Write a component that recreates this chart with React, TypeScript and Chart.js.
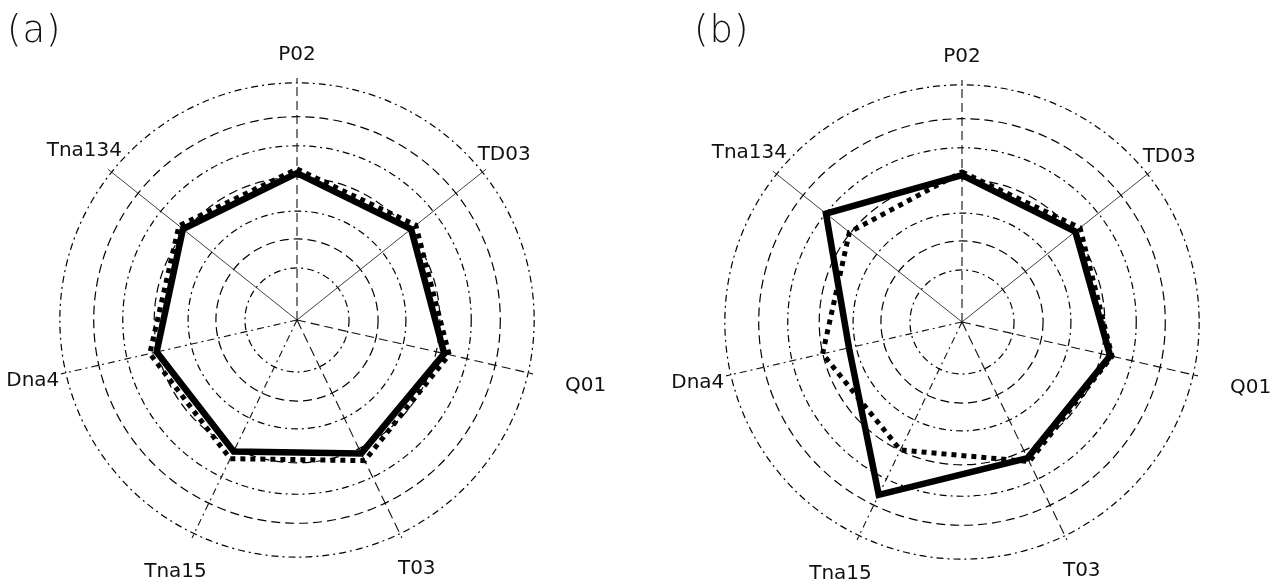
import React, { useEffect, useRef } from "react";
import { Chart, registerables } from "chart.js";

Chart.register(...registerables);

// ---- data ----
const CATEGORIES = ["P02", "TD03", "Q01", "T03", "Tna15", "Dna4", "Tna134"];
const RING_VALUES = [21.5, 33.5, 45, 59, 72, 84, 98];
const SCALE_MIN = 0;
const SCALE_MAX = 100;

const A_SOLID = [60.7, 60.3, 62.4, 61.2, 60.3, 59.5, 60.3];
const A_DASHED = [62.4, 62.8, 64.5, 64.5, 63.6, 62.4, 62.4];
const B_SOLID = [60.7, 59.9, 62.8, 62.4, 79.3, 47.9, 71.9];
const B_DASHED = [62.0, 62.4, 63.6, 64.0, 58.7, 59.1, 59.5];

// ---- styling / layout ----
const LABEL_DIST = [265, 265, 296, 276, 280, 271, 272];
const DASHED = [9, 5];
const DASH_DOT = [7, 4, 2, 4];
const ANGLE_DASH = [DASHED, [], DASHED, [10, 5], DASH_DOT, DASH_DOT, []];
const ANGLE_WIDTH = [1.1, 0.8, 1.1, 1.1, 1.1, 1.1, 0.8];

const axisLabelPlugin = {
  id: "axisLabels",
  afterDraw(chart: any) {
    const s = chart.scales.r;
    const ctx = chart.ctx;
    ctx.save();
    ctx.font = "20px 'DejaVu Sans'";
    ctx.fillStyle = "#111";
    ctx.textAlign = "center";
    ctx.textBaseline = "middle";
    (chart.data.labels as string[]).forEach((lab, i) => {
      const p = s.getPointPosition(i, LABEL_DIST[i]);
      ctx.fillText(lab, p.x, p.y);
    });
    ctx.restore();
  },
};

function makeConfig(solid: number[], dashed: number[], padding: any) {
  return {
    type: "radar" as const,
    data: {
      labels: CATEGORIES,
      datasets: [
        {
          label: "solid",
          data: solid,
          borderColor: "#000",
          borderWidth: 6.5,
          borderJoinStyle: "miter",
          fill: false,
          pointRadius: 0,
          tension: 0,
        },
        {
          label: "dashed",
          data: dashed,
          borderColor: "#000",
          borderWidth: 5,
          borderDash: [5, 5],
          borderCapStyle: "butt",
          fill: false,
          pointRadius: 0,
          tension: 0,
        },
      ],
    },
    options: {
      animation: false,
      responsive: false,
      maintainAspectRatio: false,
      layout: { padding },
      plugins: {
        legend: { display: false },
        tooltip: { enabled: false },
      },
      scales: {
        r: {
          min: SCALE_MIN,
          max: SCALE_MAX,
          afterBuildTicks: (scale: any) => {
            scale.ticks = [SCALE_MIN, ...RING_VALUES].map((v) => ({ value: v }));
          },
          ticks: { display: false },
          pointLabels: { display: false },
          grid: {
            circular: true,
            color: "#000",
            lineWidth: 1.2,
          },
          border: {
            dash: (ctx: any) => (ctx.index % 2 === 1 ? DASH_DOT : DASHED),
          },
          angleLines: {
            display: true,
            color: "#111",
            lineWidth: (ctx: any) => ANGLE_WIDTH[ctx.index],
            borderDash: (ctx: any) => ANGLE_DASH[ctx.index],
          },
        },
      },
    },
    plugins: [axisLabelPlugin],
  };
}

function RadarPanel(props: { solid: number[]; dashed: number[]; padding: any; left: number; width: number }) {
  const ref = useRef<HTMLCanvasElement | null>(null);
  useEffect(() => {
    if (!ref.current) return;
    const chart = new Chart(ref.current, makeConfig(props.solid, props.dashed, props.padding) as any);
    return () => chart.destroy();
  }, []);
  return (
    <canvas
      ref={ref}
      width={props.width}
      height={581}
      style={{ position: "absolute", left: props.left, top: 0, width: props.width, height: 581, display: "block" }}
    />
  );
}

const panelLetter: React.CSSProperties = {
  position: "absolute",
  top: 11,
  fontFamily: "'DejaVu Sans', sans-serif",
  fontWeight: 200,
  fontSize: 37,
  lineHeight: "37px",
  color: "#111",
  letterSpacing: 1,
};

export default function App() {
  return (
    <div style={{ position: "fixed", left: 0, top: 0, width: 1279, height: 581, background: "#fff", overflow: "hidden" }}>
      <RadarPanel solid={A_SOLID} dashed={A_DASHED} padding={{ left: 55, right: 101, top: 78, bottom: 19 }} left={0} width={640} />
      <RadarPanel solid={B_SOLID} dashed={B_DASHED} padding={{ left: 80, right: 75, top: 80, bottom: 17 }} left={640} width={639} />
      <div style={{ ...panelLetter, left: 7 }}>(a)</div>
      <div style={{ ...panelLetter, left: 694 }}>(b)</div>
    </div>
  );
}
